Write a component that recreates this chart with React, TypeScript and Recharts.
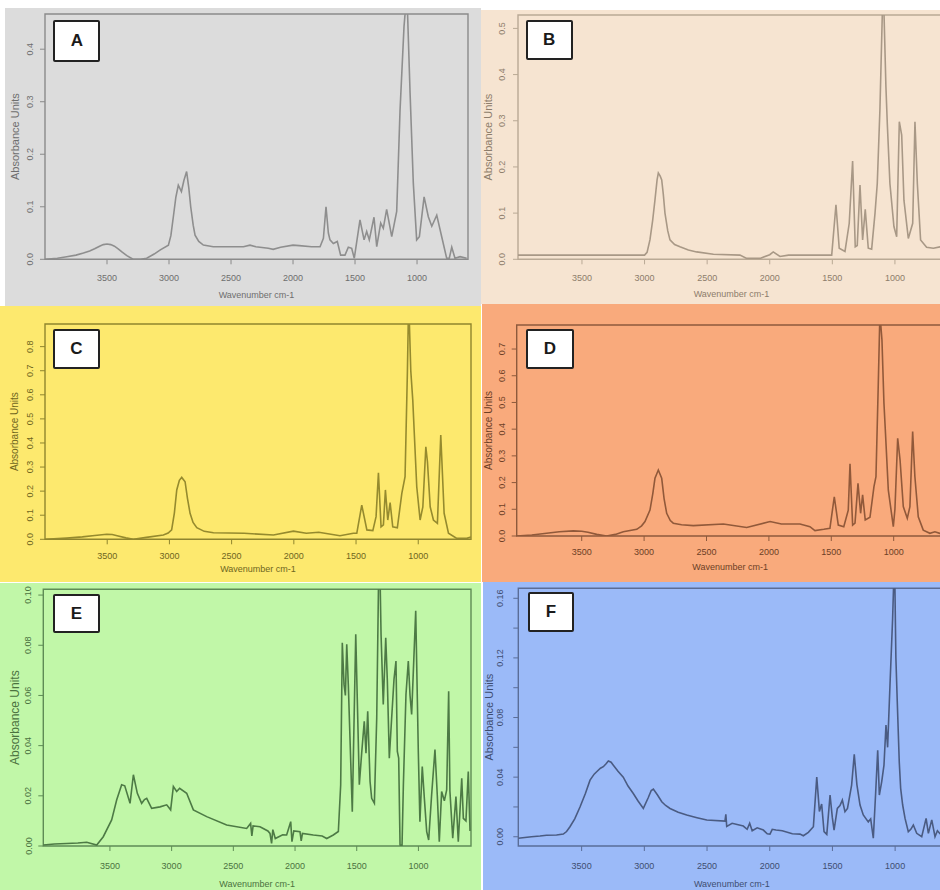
import React from "react";
import { LineChart, Line, XAxis, YAxis, ReferenceArea } from "recharts";

type Point = [number, number];

// FTIR spectra: [wavenumber cm-1, absorbance]
const spectrumA: Point[] = [
  [4000, 0.0], [3900, 0.002], [3825, 0.005], [3750, 0.008], [3690, 0.012], [3640, 0.016],
  [3600, 0.02], [3560, 0.025], [3530, 0.028], [3500, 0.029], [3470, 0.028], [3440, 0.025],
  [3410, 0.02], [3380, 0.014], [3340, 0.007], [3290, 0.0], [3230, 0.0], [3180, 0.002],
  [3120, 0.01], [3070, 0.018], [3005, 0.027], [2985, 0.045], [2965, 0.081], [2945, 0.118],
  [2925, 0.141], [2900, 0.129], [2880, 0.15], [2858, 0.167], [2840, 0.135], [2825, 0.1],
  [2805, 0.065], [2790, 0.046], [2760, 0.034], [2723, 0.027], [2643, 0.024], [2400, 0.024],
  [2347, 0.027], [2300, 0.024], [2200, 0.021], [2160, 0.019], [2100, 0.023], [2000, 0.027],
  [1950, 0.026], [1850, 0.024], [1782, 0.024], [1755, 0.04], [1734, 0.1], [1715, 0.05],
  [1702, 0.037], [1675, 0.03], [1643, 0.034], [1616, 0.008], [1581, 0.008], [1554, 0.023],
  [1527, 0.021], [1506, 0.002], [1460, 0.075], [1427, 0.037], [1406, 0.053], [1385, 0.037],
  [1347, 0.08], [1325, 0.024], [1293, 0.069], [1272, 0.059], [1245, 0.095], [1204, 0.043],
  [1164, 0.091], [1137, 0.284], [1105, 0.443], [1092, 0.48], [1078, 0.48], [1056, 0.316],
  [1030, 0.145], [1003, 0.037], [981, 0.043], [943, 0.119], [909, 0.081], [881, 0.063],
  [841, 0.084], [801, 0.043], [761, 0.002], [740, 0.002], [720, 0.023], [694, 0.002],
  [653, 0.005], [600, 0.002],
];

const spectrumB: Point[] = [
  [4011, 0.009], [3500, 0.009], [3000, 0.009], [2980, 0.015], [2957, 0.042], [2935, 0.085],
  [2917, 0.128], [2900, 0.172], [2890, 0.187], [2875, 0.18], [2863, 0.172], [2850, 0.14],
  [2837, 0.1], [2815, 0.062], [2797, 0.042], [2760, 0.032], [2717, 0.027], [2650, 0.02],
  [2584, 0.016], [2450, 0.011], [2238, 0.009], [2184, 0.002], [2078, 0.002], [2000, 0.01],
  [1972, 0.016], [1918, 0.006], [1850, 0.009], [1505, 0.009], [1471, 0.118], [1445, 0.024],
  [1399, 0.017], [1365, 0.078], [1338, 0.213], [1317, 0.027], [1301, 0.03], [1279, 0.161],
  [1258, 0.042], [1237, 0.108], [1213, 0.024], [1186, 0.022], [1159, 0.1], [1141, 0.164],
  [1120, 0.323], [1100, 0.54], [1088, 0.54], [1072, 0.374], [1061, 0.294], [1040, 0.164],
  [1008, 0.071], [986, 0.049], [965, 0.298], [946, 0.269], [928, 0.128], [893, 0.045],
  [858, 0.078], [840, 0.298], [821, 0.164], [795, 0.042], [747, 0.026], [693, 0.024],
  [640, 0.027], [600, 0.027],
];

const spectrumC: Point[] = [
  [4000, 0.0], [3826, 0.005], [3700, 0.01], [3600, 0.016], [3504, 0.021], [3460, 0.02],
  [3420, 0.015], [3350, 0.006], [3290, 0.0], [3185, 0.008], [3049, 0.018], [3010, 0.026],
  [2982, 0.039], [2960, 0.11], [2941, 0.205], [2920, 0.245], [2901, 0.257], [2874, 0.239],
  [2855, 0.17], [2834, 0.108], [2810, 0.07], [2780, 0.048], [2720, 0.033], [2646, 0.027],
  [2400, 0.025], [2164, 0.018], [2003, 0.034], [1900, 0.025], [1800, 0.029], [1629, 0.015],
  [1522, 0.025], [1494, 0.025], [1454, 0.142], [1413, 0.039], [1365, 0.036], [1339, 0.094],
  [1320, 0.276], [1299, 0.052], [1280, 0.06], [1264, 0.205], [1245, 0.08], [1226, 0.152],
  [1205, 0.052], [1168, 0.048], [1132, 0.191], [1106, 0.26], [1087, 0.7], [1080, 0.91],
  [1072, 0.91], [1060, 0.7], [1044, 0.578], [1033, 0.454], [1012, 0.218], [985, 0.08],
  [963, 0.135], [939, 0.384], [926, 0.322], [904, 0.135], [878, 0.08], [846, 0.066],
  [819, 0.433], [792, 0.108], [757, 0.025], [690, 0.004], [610, 0.004], [576, 0.01],
];

const spectrumD: Point[] = [
  [4021, 0.0], [3900, 0.004], [3781, 0.01], [3680, 0.016], [3568, 0.019], [3500, 0.018],
  [3450, 0.014], [3380, 0.006], [3300, 0.0], [3230, 0.006], [3167, 0.016], [3059, 0.025],
  [3020, 0.038], [2993, 0.054], [2953, 0.097], [2930, 0.16], [2913, 0.216], [2886, 0.247],
  [2859, 0.216], [2840, 0.14], [2819, 0.085], [2790, 0.058], [2766, 0.048], [2700, 0.042],
  [2606, 0.039], [2365, 0.045], [2178, 0.032], [1991, 0.054], [1900, 0.045], [1751, 0.045],
  [1671, 0.035], [1631, 0.02], [1560, 0.025], [1511, 0.029], [1476, 0.147], [1444, 0.041],
  [1400, 0.035], [1364, 0.097], [1350, 0.27], [1329, 0.041], [1310, 0.048], [1286, 0.197],
  [1265, 0.085], [1249, 0.154], [1228, 0.06], [1190, 0.07], [1158, 0.185], [1142, 0.222],
  [1124, 0.559], [1112, 0.8], [1105, 0.8], [1094, 0.734], [1078, 0.497], [1067, 0.397],
  [1043, 0.172], [1003, 0.035], [990, 0.1], [968, 0.366], [949, 0.285], [923, 0.11],
  [891, 0.066], [870, 0.11], [848, 0.391], [830, 0.222], [803, 0.072], [763, 0.022],
  [710, 0.01], [670, 0.016], [630, 0.01], [600, 0.01],
];

const spectrumE: Point[] = [
  [4040, 0.0004], [3950, 0.0008], [3850, 0.001], [3760, 0.0012], [3688, 0.0015], [3607, 0.0004],
  [3554, 0.0037], [3486, 0.0104], [3445, 0.0184], [3405, 0.0244], [3380, 0.024], [3337, 0.017],
  [3310, 0.0284], [3278, 0.021], [3243, 0.017], [3220, 0.0185], [3202, 0.019], [3162, 0.015],
  [3094, 0.0156], [3040, 0.0164], [3008, 0.0144], [2986, 0.0237], [2959, 0.0217], [2935, 0.023],
  [2878, 0.021], [2824, 0.0144], [2716, 0.0117], [2554, 0.0084], [2392, 0.007], [2360, 0.009],
  [2350, 0.004], [2340, 0.008], [2284, 0.0077], [2220, 0.006], [2203, 0.005], [2190, 0.001],
  [2180, 0.0065], [2160, 0.003], [2100, 0.0045], [2068, 0.0044], [2035, 0.0097], [2025, 0.0017],
  [2010, 0.006], [1960, 0.0057], [1950, 0.002], [1940, 0.005], [1852, 0.0044], [1780, 0.004],
  [1743, 0.003], [1690, 0.0044], [1649, 0.0058], [1630, 0.0244], [1617, 0.081], [1603, 0.0644],
  [1592, 0.06], [1581, 0.0804], [1568, 0.064], [1536, 0.0137], [1508, 0.0844], [1479, 0.0244],
  [1460, 0.037], [1439, 0.0497], [1425, 0.037], [1411, 0.0537], [1392, 0.0257], [1379, 0.019],
  [1357, 0.017], [1338, 0.051], [1322, 0.11], [1312, 0.11], [1303, 0.0844], [1285, 0.0564],
  [1265, 0.083], [1252, 0.066], [1236, 0.035], [1217, 0.051], [1198, 0.0664], [1182, 0.0737],
  [1171, 0.0377], [1160, 0.035], [1149, 0.0004], [1133, 0.0], [1122, 0.0244], [1101, 0.0604],
  [1082, 0.0737], [1068, 0.06], [1055, 0.0524], [1022, 0.0937], [1001, 0.0377], [988, 0.0097],
  [969, 0.0317], [952, 0.019], [933, 0.0057], [917, 0.0024], [893, 0.0204], [866, 0.0384],
  [847, 0.02], [831, 0.0017], [812, 0.0217], [790, 0.018], [771, 0.0224], [755, 0.0617],
  [745, 0.022], [722, 0.0031], [696, 0.0197], [677, 0.0017], [649, 0.027], [636, 0.011],
  [615, 0.01], [596, 0.0297], [582, 0.006],
];

const spectrumF: Point[] = [
  [4005, -0.001], [3900, 0.0], [3832, 0.0005], [3780, 0.001], [3700, 0.0012], [3646, 0.0018],
  [3620, 0.0035], [3593, 0.0067], [3555, 0.012], [3513, 0.02], [3470, 0.029], [3433, 0.038],
  [3400, 0.042], [3380, 0.0436], [3350, 0.046], [3327, 0.047], [3305, 0.049], [3287, 0.0508],
  [3265, 0.05], [3247, 0.048], [3210, 0.044], [3168, 0.04], [3130, 0.034], [3088, 0.029],
  [3050, 0.024], [3008, 0.019], [2970, 0.026], [2945, 0.031], [2928, 0.032], [2895, 0.028],
  [2861, 0.0235], [2830, 0.021], [2795, 0.019], [2730, 0.0165], [2662, 0.0146], [2580, 0.0128],
  [2502, 0.0112], [2357, 0.0105], [2350, 0.015], [2343, 0.007], [2300, 0.009], [2211, 0.0072],
  [2180, 0.005], [2160, 0.009], [2140, 0.004], [2100, 0.006], [2051, 0.0045], [2020, 0.002],
  [1998, 0.0018], [1980, 0.005], [1950, 0.0045], [1900, 0.004], [1820, 0.002], [1759, 0.0018],
  [1732, 0.0007], [1692, 0.003], [1652, 0.0067], [1625, 0.04], [1604, 0.017], [1586, 0.022],
  [1567, 0.0034], [1545, 0.0016], [1519, 0.028], [1501, 0.013], [1487, 0.0045], [1461, 0.019],
  [1440, 0.021], [1421, 0.0246], [1400, 0.0168], [1380, 0.019], [1347, 0.0347], [1326, 0.0553],
  [1305, 0.035], [1280, 0.0213], [1254, 0.0146], [1214, 0.01], [1195, 0.012], [1174, -0.001],
  [1155, 0.03], [1139, 0.058], [1126, 0.028], [1107, 0.037], [1089, 0.048], [1073, 0.075],
  [1060, 0.06], [1041, 0.102], [1020, 0.1466], [1010, 0.175], [1003, 0.175], [994, 0.12],
  [983, 0.0906], [967, 0.05], [956, 0.0325], [940, 0.0213], [921, 0.0123], [895, 0.0034],
  [875, 0.005], [855, 0.0079], [828, 0.0023], [788, 0.0], [753, 0.0123], [735, 0.0023],
  [708, 0.0113], [682, 0.0], [663, 0.004], [642, 0.002], [600, 0.002],
];

const wavenumberTicks = [3500, 3000, 2500, 2000, 1500, 1000];
const absTicksA = [0, 0.1, 0.2, 0.3, 0.4];
const absTicksB = [0, 0.1, 0.2, 0.3, 0.4, 0.5];
const absTicksC = [0, 0.1, 0.2, 0.3, 0.4, 0.5, 0.6, 0.7, 0.8];
const absTicksD = [0, 0.1, 0.2, 0.3, 0.4, 0.5, 0.6, 0.7];
const absTicksE = [0, 0.02, 0.04, 0.06, 0.08, 0.1];
const absTicksF = [0, 0.02, 0.04, 0.06, 0.08, 0.1, 0.12, 0.14, 0.16];

const FONT = '"Liberation Sans", Arial, Helvetica, sans-serif';

interface PanelSpec {
  letter: string;
  spectrum: Point[];
  yTicks: number[];
  digits: number;
  labelled?: (v: number) => boolean;
  xDomain: [number, number];
  yDomain: [number, number];
  box: [number, number, number, number]; // left, top, width, height on the page
  chartW: number;
  frame: { left: number; top: number; right: number; bottom: number }; // inside the panel
  xTickMargin: number;
  xTitleDy: number;
  yTickMargin: number;
  yTitleDx: number;
  yTitleSize: number;
  letterBox: [number, number, number, number];
  bg: string;
  line: string;
  frameColor: string;
  ink: string;
}

const panels: PanelSpec[] = [
  {
    letter: "A", spectrum: spectrumA, yTicks: absTicksA, digits: 1,
    xDomain: [589, 4000], yDomain: [0, 0.467],
    box: [5, 8, 476, 298], chartW: 476,
    frame: { left: 40, top: 6, right: 463, bottom: 251.3 },
    xTickMargin: 10.5, xTitleDy: 35.7, yTickMargin: 6.8, yTitleDx: 30, yTitleSize: 11,
    letterBox: [48.3, 12, 47, 42],
    bg: "#dcdcdc", line: "#8e8e8e", frameColor: "#8a8a8a", ink: "#6e6e6e",
  },
  {
    letter: "B", spectrum: spectrumB, yTicks: absTicksB, digits: 1,
    xDomain: [600, 4011], yDomain: [0, 0.529],
    box: [481, 10, 459, 294], chartW: 470,
    frame: { left: 37, top: 5, right: 464, bottom: 249.3 },
    xTickMargin: 10.2, xTitleDy: 35, yTickMargin: 8.1, yTitleDx: 30, yTitleSize: 11,
    letterBox: [44.7, 10, 47, 40],
    bg: "#f6e4d1", line: "#a89886", frameColor: "#b9a995", ink: "#8d7d6b",
  },
  {
    letter: "C", spectrum: spectrumC, yTicks: absTicksC, digits: 1,
    xDomain: [576, 4000], yDomain: [0, 0.894],
    box: [0, 306, 481, 276], chartW: 481,
    frame: { left: 45, top: 18, right: 471, bottom: 233.3 },
    xTickMargin: 8.5, xTitleDy: 29.7, yTickMargin: 6.8, yTitleDx: 30, yTitleSize: 10,
    letterBox: [53, 23.3, 47, 40],
    bg: "#fde96e", line: "#958a2e", frameColor: "#8f852e", ink: "#6f661e",
  },
  {
    letter: "D", spectrum: spectrumD, yTicks: absTicksD, digits: 1,
    xDomain: [600, 4021], yDomain: [0, 0.79],
    box: [482, 304, 458, 278], chartW: 466,
    frame: { left: 34.7, top: 21, right: 461.6, bottom: 232 },
    xTickMargin: 7.5, xTitleDy: 30.7, yTickMargin: 6.8, yTitleDx: 28.7, yTitleSize: 10,
    letterBox: [43.7, 25.3, 48.6, 40],
    bg: "#f9aa7c", line: "#91593a", frameColor: "#8d5a3c", ink: "#6d3f26",
  },
  {
    letter: "E", spectrum: spectrumE, yTicks: absTicksE, digits: 2,
    xDomain: [574, 4040], yDomain: [0, 0.1023],
    box: [0, 583, 481, 307], chartW: 481,
    frame: { left: 43.3, top: 6.3, right: 471, bottom: 263 },
    xTickMargin: 11.8, xTitleDy: 38, yTickMargin: 6.8, yTitleDx: 28.3, yTitleSize: 12,
    letterBox: [53, 11, 47, 39.3],
    bg: "#c1f7a8", line: "#4d7a45", frameColor: "#5e8c55", ink: "#4b723f",
  },
  {
    letter: "F", spectrum: spectrumF, yTicks: absTicksF, digits: 2,
    labelled: (v) => Math.round(v * 100) % 4 === 0,
    xDomain: [600, 4005], yDomain: [-0.0062, 0.1667],
    box: [483, 582, 457, 308], chartW: 470,
    frame: { left: 35.3, top: 6.3, right: 462.3, bottom: 264 },
    xTickMargin: 11.8, xTitleDy: 38, yTickMargin: 10.1, yTitleDx: 29, yTitleSize: 11,
    letterBox: [44.7, 10.3, 46.6, 40],
    bg: "#9bbaf8", line: "#4a5b82", frameColor: "#5a6d98", ink: "#3e4d70",
  },
];

const Panel = ({ p }: { p: PanelSpec }) => {
  const data = p.spectrum.map(([wn, abs]) => ({ wn, abs }));
  const [left, top, width, height] = p.box;
  const f = p.frame;
  const midX = (f.left + f.right) / 2;
  const midY = (f.top + f.bottom) / 2;

  const yTick = (props: any) => {
    const { x, y, payload } = props;
    const v = payload.value as number;
    if (p.labelled && !p.labelled(v)) return <g />;
    return (
      <text
        x={x}
        y={y}
        transform={`rotate(-90 ${x} ${y})`}
        textAnchor="middle"
        fontSize={9}
        fontFamily={FONT}
        fill={p.ink}
      >
        {v.toFixed(p.digits)}
      </text>
    );
  };

  const xTitle = () => (
    <text
      x={midX}
      y={f.bottom + p.xTitleDy}
      textAnchor="middle"
      dominantBaseline="central"
      fontSize={9}
      fontFamily={FONT}
      fill={p.ink}
    >
      Wavenumber cm-1
    </text>
  );

  const yTitle = () => {
    const cx = f.left - p.yTitleDx;
    return (
      <text
        x={cx}
        y={midY}
        transform={`rotate(-90 ${cx} ${midY})`}
        textAnchor="middle"
        dominantBaseline="central"
        fontSize={p.yTitleSize}
        fontFamily={FONT}
        fill={p.ink}
      >
        Absorbance Units
      </text>
    );
  };

  return (
    <div
      style={{
        position: "absolute",
        left,
        top,
        width,
        height,
        background: p.bg,
        overflow: "hidden",
      }}
    >
      <LineChart
        width={p.chartW}
        height={height}
        data={data}
        margin={{ top: f.top, right: p.chartW - f.right, left: 0, bottom: 0 }}
      >
        <XAxis
          dataKey="wn"
          type="number"
          domain={p.xDomain}
          reversed
          allowDataOverflow
          ticks={wavenumberTicks}
          interval={0}
          height={height - f.bottom}
          axisLine={false}
          tickSize={5}
          tickMargin={p.xTickMargin}
          stroke={p.frameColor}
          tick={{ fontSize: 9, fill: p.ink, fontFamily: FONT }}
          label={{ content: xTitle }}
        />
        <YAxis
          type="number"
          domain={p.yDomain}
          allowDataOverflow
          ticks={p.yTicks}
          interval={0}
          width={f.left}
          axisLine={false}
          tickSize={5}
          tickMargin={p.yTickMargin}
          stroke={p.frameColor}
          tick={yTick}
          label={{ content: yTitle }}
        />
        <ReferenceArea
          x1={p.xDomain[0]}
          x2={p.xDomain[1]}
          y1={p.yDomain[0]}
          y2={p.yDomain[1]}
          fill="none"
          fillOpacity={0}
          stroke={p.frameColor}
          strokeWidth={1.4}
          ifOverflow="visible"
        />
        <Line
          type="linear"
          dataKey="abs"
          stroke={p.line}
          strokeWidth={1.6}
          dot={false}
          activeDot={false}
          isAnimationActive={false}
        />
      </LineChart>
      <div
        style={{
          position: "absolute",
          left: p.letterBox[0],
          top: p.letterBox[1],
          width: p.letterBox[2],
          height: p.letterBox[3],
          boxSizing: "border-box",
          background: "#ffffff",
          border: "2px solid #222",
          borderRadius: 2,
          display: "flex",
          alignItems: "center",
          justifyContent: "center",
          fontFamily: FONT,
          fontWeight: 700,
          fontSize: 17,
          color: "#1a1a1a",
        }}
      >
        {p.letter}
      </div>
    </div>
  );
};

export default function App() {
  return (
    <div
      style={{
        position: "absolute",
        left: 0,
        top: 0,
        width: 940,
        height: 890,
        overflow: "hidden",
        background: "#ffffff",
        fontFamily: FONT,
      }}
    >
      {panels.map((p) => (
        <Panel key={p.letter} p={p} />
      ))}
    </div>
  );
}
